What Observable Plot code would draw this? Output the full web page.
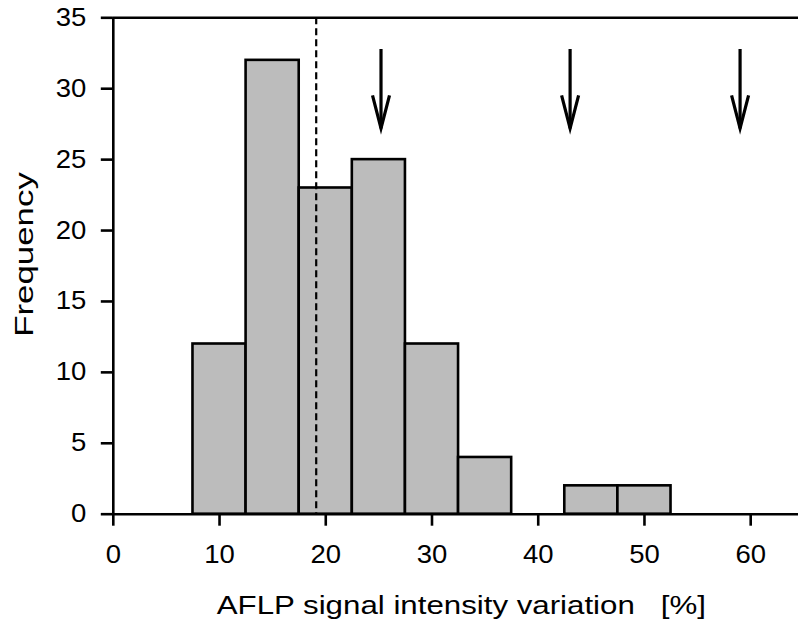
<!DOCTYPE html>
<html>
<head>
<meta charset="utf-8">
<script src="https://cdn.jsdelivr.net/npm/d3@7"></script>
<script src="https://cdn.jsdelivr.net/npm/@observablehq/plot@0.6"></script>
<style>
  html, body { margin: 0; padding: 0; background: #fff; }
  #chart svg { display: block; }
</style>
</head>
<body>
<div id="chart"></div>
<script>
// ---- data ----
const binStart  = [7.5, 12.5, 17.5, 22.5, 27.5, 32.5, 42.5, 47.5];
const binEnd    = [12.5, 17.5, 22.5, 27.5, 32.5, 37.5, 47.5, 52.5];
const frequency = [12, 32, 23, 25, 12, 4, 2, 2];

const xTicks = [0, 10, 20, 30, 40, 50, 60];
const yTicks = [0, 5, 10, 15, 20, 25, 30, 35];

const dashedX = [19.1];             // dashed reference line

const arrowX   = [25.2, 43.0, 59.0]; // arrow positions (x)
const arrowTop = [32.8, 32.8, 32.8]; // arrow tail (frequency units)
const arrowTip = [27.2, 27.2, 27.2]; // arrow head tip (frequency units)

const xLabel = "AFLP signal intensity variation\u00a0\u00a0\u00a0[%]";
const yLabel = "Frequency";

// ---- tables built from the arrays ----
const bins = binStart.map((s, i) => ({start: s, end: binEnd[i], count: frequency[i]}));
const arrows = arrowX.map((x, i) => ({x, top: arrowTop[i], tip: arrowTip[i]}));

// open "V" arrow head, tip at the origin
const HEAD_HALF = 8.5, HEAD_LEN = 33;
const vHead = {
  draw(context) {
    context.moveTo(-HEAD_HALF, -HEAD_LEN);
    context.lineTo(0, 0);
    context.lineTo(HEAD_HALF, -HEAD_LEN);
  }
};

const LW = 2.6;

const chart = Plot.plot({
  width: 798,
  height: 626,
  marginLeft: 112.8,
  marginRight: 0,
  marginTop: 17.3,
  marginBottom: 112.3,
  style: {fontFamily: "'Liberation Sans', Arial, sans-serif", color: "black", background: "white"},
  x: {domain: [0, 64.5]},
  y: {domain: [0, 35]},
  marks: [
    Plot.rectY(bins, {x1: "start", x2: "end", y: "count", fill: "#bcbcbc", stroke: "black", strokeWidth: LW}),
    Plot.ruleX(dashedX, {stroke: "black", strokeWidth: 2.2, strokeDasharray: "7,4"}),
    Plot.ruleY([0], {stroke: "black", strokeWidth: LW}),
    Plot.ruleY([35], {stroke: "black", strokeWidth: LW}),
    Plot.ruleX([0], {stroke: "black", strokeWidth: LW}),
    Plot.axisX({ticks: xTicks, tickSize: 12, tickPadding: 19, strokeWidth: LW, fontSize: 25, label: null, tickFormat: d => String(d)}),
    Plot.axisY({ticks: yTicks, tickSize: 12, tickPadding: 15, strokeWidth: LW, fontSize: 25, label: null, tickFormat: d => String(d)}),
    Plot.link(arrows, {x1: "x", x2: "x", y1: "top", y2: "tip", stroke: "black", strokeWidth: 3.2}),
    Plot.dot(arrows, {x: "x", y: "tip", symbol: vHead, r: 5, fill: "none", stroke: "black", strokeWidth: 3.2, strokeLinejoin: "miter", strokeMiterlimit: 10}),
    Plot.text([xLabel], {frameAnchor: "bottom", textAnchor: "middle", dy: 91.6, dx: 5.5, fontSize: 25, lineAnchor: "middle", fill: "black"}),
    Plot.text([yLabel], {frameAnchor: "left", textAnchor: "middle", dx: -89.1, dy: -11.5, rotate: -90, fontSize: 26, lineAnchor: "middle", fill: "black"})
  ]
});
document.getElementById("chart").appendChild(chart);

// widen the glyphs to match the broad type of the reference
chart.querySelectorAll("text").forEach(t => {
  const s = t.textContent;
  let k = 1;
  if (/^\d+$/.test(s)) k = 1.1;
  else if (s === xLabel) k = 1.25;
  else if (s === yLabel) k = 1.34;
  if (k !== 1) {
    const len = t.getComputedTextLength();
    t.setAttribute("textLength", (len * k).toFixed(2));
    t.setAttribute("lengthAdjust", "spacingAndGlyphs");
  }
});
</script>
</body>
</html>
